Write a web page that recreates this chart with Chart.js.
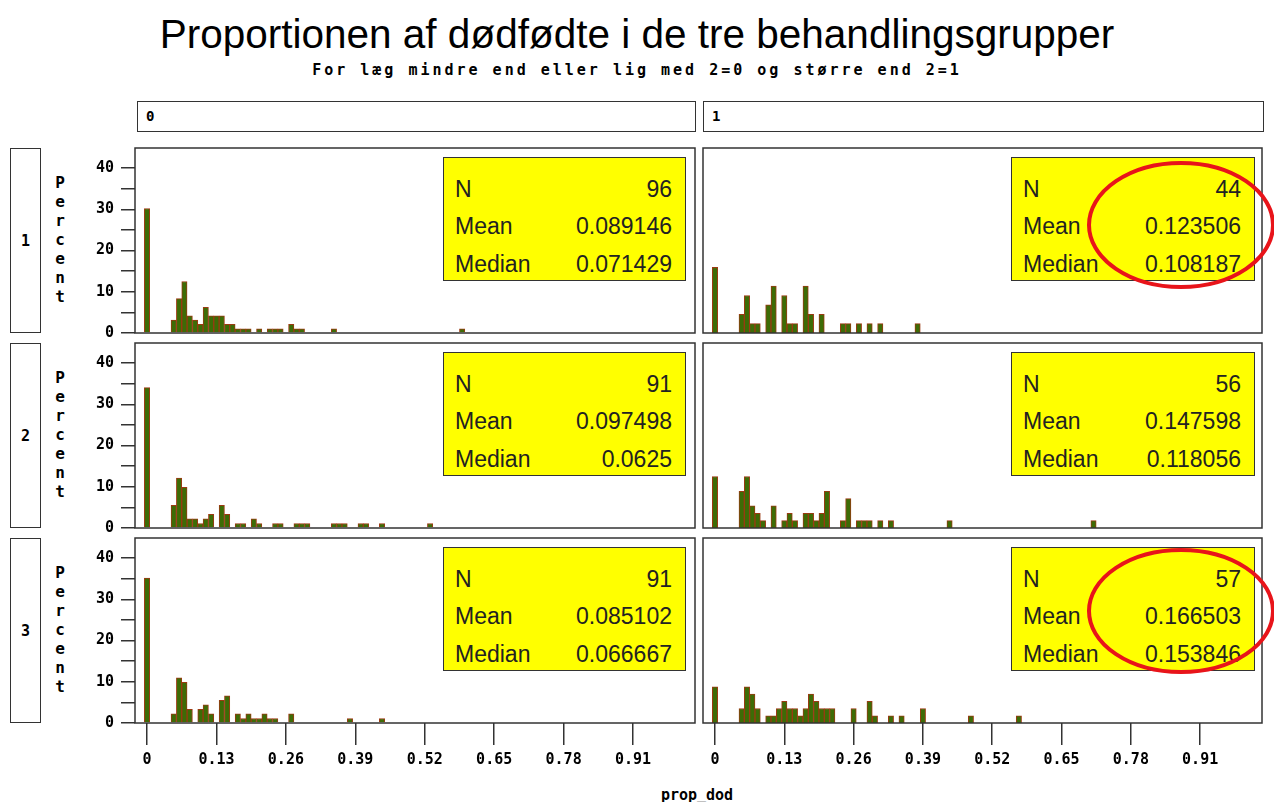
<!DOCTYPE html>
<html lang="da">
<head>
<meta charset="UTF-8">
<title>Proportionen af dødfødte</title>
<style>
    body { margin: 0; background: #fff; width: 1274px; height: 802px; position: relative; overflow: hidden;
           font-family: "Liberation Sans", Arial, sans-serif; color: #000; }
    .abs { position: absolute; }
    .titel { left: 0; top: 14px; width: 1274px; text-align: center; font-size: 40.5px; line-height: 40px; }
    .undertitel { left: 0; top: 61px; width: 1274px; text-align: center; font: bold 15px "DejaVu Sans Mono", monospace;
                  letter-spacing: 3px; line-height: 18px; }
    .hoved { top: 101px; height: 29px; border: 1.5px solid #333; font: bold 14px "DejaVu Sans Mono", monospace;
             line-height: 29px; padding-left: 8px; box-sizing: content-box; }
    .rk { left: 10px; width: 29px; height: 183px; border: 1.5px solid #333; font: bold 15px "DejaVu Sans Mono", monospace;
          display: flex; align-items: center; justify-content: center; }
    .pct { left: 50px; width: 20px; text-align: center; font: bold 16px "DejaVu Sans Mono", monospace; line-height: 19px; }
    .boks { background: #ffff00; border: 1.5px solid #333; box-sizing: border-box; font-size: 23px; color: #222; }
    .boks div { position: absolute; left: 11px; right: 13px; height: 26px; line-height: 26px; }
    .boks span { float: right; }
    .aksenavn { left: 0; width: 1394px; top: 786px; text-align: center; font: bold 15px "DejaVu Sans Mono", monospace; }
</style>
</head>
<body>
<div class="abs titel">Proportionen af dødfødte i de tre behandlingsgrupper</div>
<div class="abs undertitel">For læg mindre end eller lig med 2=0 og større end 2=1</div>
<div class="abs hoved" style="left:137px; width:549px;">0</div>
<div class="abs hoved" style="left:703px; width:551px;">1</div>
<div class="abs aksenavn">prop_dod</div>
<div id="panels"></div>
<svg class="abs" style="left:0; top:0;" width="1274" height="802">
    <ellipse cx="1181" cy="225" rx="92" ry="62" fill="none" stroke="#e8141a" stroke-width="4"/>
    <ellipse cx="1181" cy="611" rx="92" ry="61" fill="none" stroke="#e8141a" stroke-width="4"/>
</svg>

<script src="https://cdn.jsdelivr.net/npm/chart.js"></script>
<script>
    // række 1 = gruppe 1, kolonne 0/1 = læg <= 2 / > 2
    const binsR1C0 = [0, 0.05, 0.06, 0.07, 0.08, 0.09, 0.10, 0.11, 0.12, 0.13, 0.14, 0.15, 0.16, 0.17, 0.18, 0.19, 0.21, 0.23, 0.24, 0.25, 0.27, 0.28, 0.29, 0.35, 0.59];
    const countsR1C0 = [29, 3, 8, 12, 4, 3, 2, 6, 4, 4, 4, 2, 2, 1, 1, 1, 1, 1, 1, 1, 2, 1, 1, 1, 1];
    const binsR1C1 = [0, 0.05, 0.06, 0.07, 0.08, 0.10, 0.11, 0.13, 0.14, 0.15, 0.17, 0.18, 0.20, 0.24, 0.25, 0.27, 0.29, 0.31, 0.38];
    const countsR1C1 = [7, 2, 4, 1, 1, 3, 5, 4, 1, 1, 5, 2, 2, 1, 1, 1, 1, 1, 1];

    const binsR2C0 = [0, 0.05, 0.06, 0.07, 0.08, 0.09, 0.10, 0.11, 0.12, 0.14, 0.15, 0.17, 0.18, 0.20, 0.21, 0.24, 0.25, 0.28, 0.29, 0.30, 0.35, 0.36, 0.37, 0.40, 0.41, 0.44, 0.53];
    const countsR2C0 = [31, 5, 11, 9, 2, 2, 1, 2, 3, 5, 3, 1, 1, 2, 1, 1, 1, 1, 1, 1, 1, 1, 1, 1, 1, 1, 1];
    const binsR2C1 = [0, 0.05, 0.06, 0.07, 0.08, 0.09, 0.11, 0.13, 0.14, 0.15, 0.17, 0.18, 0.19, 0.20, 0.21, 0.24, 0.25, 0.27, 0.28, 0.29, 0.31, 0.33, 0.44, 0.71];
    const countsR2C1 = [7, 5, 7, 3, 2, 1, 3, 1, 2, 1, 2, 2, 1, 2, 5, 1, 4, 1, 1, 1, 1, 1, 1, 1];

    const binsR3C0 = [0, 0.05, 0.06, 0.07, 0.08, 0.10, 0.11, 0.12, 0.14, 0.15, 0.17, 0.18, 0.19, 0.20, 0.21, 0.22, 0.23, 0.24, 0.27, 0.38, 0.44];
    const countsR3C0 = [32, 2, 10, 9, 3, 3, 4, 2, 5, 6, 2, 1, 2, 1, 1, 2, 1, 1, 2, 1, 1];
    const binsR3C1 = [0, 0.05, 0.06, 0.07, 0.08, 0.10, 0.11, 0.12, 0.13, 0.14, 0.15, 0.16, 0.17, 0.18, 0.19, 0.20, 0.21, 0.22, 0.26, 0.29, 0.30, 0.33, 0.35, 0.39, 0.48, 0.57];
    const countsR3C1 = [5, 2, 5, 4, 2, 1, 1, 2, 3, 2, 2, 1, 2, 4, 3, 2, 2, 2, 2, 3, 1, 1, 1, 2, 1, 1];

    // statistikboksene, i samme rækkefølge som panelerne
    const nValues = ['96', '44', '91', '56', '91', '57'];
    const meanValues = ['0.089146', '0.123506', '0.097498', '0.147598', '0.085102', '0.166503'];
    const medianValues = ['0.071429', '0.108187', '0.0625', '0.118056', '0.066667', '0.153846'];

    const rowLabels = ['1', '2', '3'];
    const xTickValues = [0, 0.13, 0.26, 0.39, 0.52, 0.65, 0.78, 0.91];
    const yTickValues = [0, 5, 10, 15, 20, 25, 30, 35, 40];

    const panelBins = [binsR1C0, binsR1C1, binsR2C0, binsR2C1, binsR3C0, binsR3C1];
    const panelCounts = [countsR1C0, countsR1C1, countsR2C0, countsR2C1, countsR3C0, countsR3C1];

    const rowTops = [148, 343, 538];
    const akseFont = { family: 'DejaVu Sans Mono', size: 15, weight: 'bold' };

    const rammePlugin = {
        id: 'ramme',
        afterDraw(chart) {
            const { ctx, chartArea: a } = chart;
            ctx.save();
            ctx.strokeStyle = '#333';
            ctx.lineWidth = 1.5;
            ctx.strokeRect(a.left, a.top, a.right - a.left, a.bottom - a.top);
            ctx.restore();
        }
    };

    const holder = document.getElementById('panels');

    // række-etiketter og "Percent"
    rowLabels.forEach((lab, r) => {
        const rk = document.createElement('div');
        rk.className = 'abs rk';
        rk.style.top = rowTops[r] + 'px';
        rk.textContent = lab;
        holder.appendChild(rk);

        const p = document.createElement('div');
        p.className = 'abs pct';
        p.style.top = (rowTops[r] + 25) + 'px';
        p.innerHTML = 'P<br>e<br>r<br>c<br>e<br>n<br>t';
        holder.appendChild(p);
    });

    function lagPanel(idx) {
        const row = Math.floor(idx / 2);
        const col = idx % 2;
        const bund = row === 2;
        const venstre = col === 0;

        const panelX = venstre ? 135 : 703;
        const panelY = rowTops[row];
        const panelW = venstre ? 560 : 559;
        const panelH = 185;
        const axisW = venstre ? 55 : 0;
        const axisH = bund ? 62 : 0;
        const padL = venstre ? 0 : 2, padT = 2, padR = 2, padB = bund ? 0 : 12;

        const cw = axisW + padL + panelW + padR;
        const ch = padT + panelH + padB + axisH;

        const canvas = document.createElement('canvas');
        canvas.width = cw;
        canvas.height = ch;
        canvas.className = 'abs';
        canvas.style.left = (panelX - axisW - padL) + 'px';
        canvas.style.top = (panelY - padT) + 'px';
        canvas.style.width = cw + 'px';
        canvas.style.height = ch + 'px';
        holder.appendChild(canvas);

        const n = Number(nValues[idx]);
        const bins = panelBins[idx];
        const counts = panelCounts[idx];

        new Chart(canvas, {
            type: 'bar',
            data: {
                datasets: [{
                    data: bins.map((b, i) => ({ x: b, y: counts[i] * 100 / n })),
                    backgroundColor: '#3d6c06',
                    borderColor: '#9b3a12',
                    borderWidth: 1,
                    barPercentage: 1,
                    categoryPercentage: 1
                }]
            },
            options: {
                responsive: false,
                animation: false,
                devicePixelRatio: 1,
                layout: { padding: { left: padL, top: padT, right: padR, bottom: padB } },
                plugins: { legend: { display: false }, tooltip: { enabled: false } },
                scales: {
                    x: {
                        type: 'linear',
                        min: -0.0225,
                        max: 1.026,
                        offset: false,
                        display: bund,
                        afterBuildTicks: s => { s.ticks = xTickValues.map(v => ({ value: v })); },
                        afterFit: s => { s.height = axisH; s.paddingLeft = 0; s.paddingRight = 0; },
                        border: { display: false },
                        grid: { offset: false, drawOnChartArea: false, tickLength: 22, color: '#333', lineWidth: 1.5 },
                        ticks: {
                            padding: 6, color: '#000', font: akseFont, autoSkip: false, maxRotation: 0,
                            callback: v => v === 0 ? '0' : v.toFixed(2)
                        }
                    },
                    y: {
                        min: 0,
                        max: 44.9,
                        display: venstre,
                        afterBuildTicks: s => { s.ticks = yTickValues.map(v => ({ value: v })); },
                        afterFit: s => { s.width = axisW; s.paddingTop = 0; s.paddingBottom = 0; },
                        border: { display: false },
                        grid: { drawOnChartArea: false, tickLength: 14, color: '#333', lineWidth: 1.5 },
                        ticks: {
                            padding: 7, color: '#000', font: akseFont, autoSkip: false,
                            callback: v => v % 10 === 0 ? String(v) : ''
                        }
                    }
                }
            },
            plugins: [rammePlugin]
        });

        // statistikboks
        const boks = document.createElement('div');
        boks.className = 'abs boks';
        boks.style.left = (panelX + 308) + 'px';
        boks.style.top = (panelY + 9) + 'px';
        boks.style.width = (venstre ? 243 : 244) + 'px';
        boks.style.height = '124px';
        boks.innerHTML =
            '<div style="top:18px">N<span>' + nValues[idx] + '</span></div>' +
            '<div style="top:55px">Mean<span>' + meanValues[idx] + '</span></div>' +
            '<div style="top:93px">Median<span>' + medianValues[idx] + '</span></div>';
        holder.appendChild(boks);
    }

    for (let i = 0; i < 6; i++) lagPanel(i);
</script>
</body>
</html>
